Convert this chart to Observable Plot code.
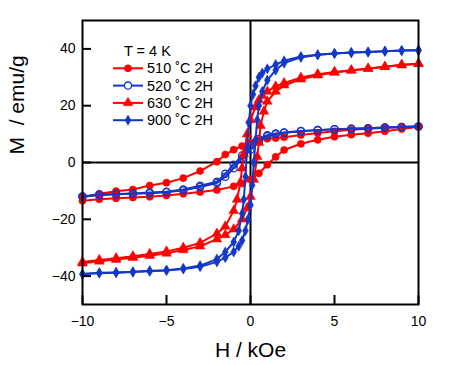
<!DOCTYPE html>
<html><head><meta charset="utf-8">
<script src="https://cdn.jsdelivr.net/npm/d3@7"></script>
<script src="https://cdn.jsdelivr.net/npm/@observablehq/plot@0.6"></script>
<style>
body{margin:0;background:#fff;}
#chart{position:relative;width:456px;height:365px;font-family:Arial,"Liberation Sans",sans-serif;}
</style>
</head><body><div id="chart"></div>
<script>
// ---- data ----
const seriesNames = ["510 ˚C 2H", "520 ˚C 2H", "630 ˚C 2H", "900 ˚C 2H"];
const seriesColors = ["#ff0000", "#1437c8", "#ff0000", "#1437c8"];
const seriesSymbols = ["circle", "circle", "triangle", "diamond"];
const seriesFilled = [true, false, true, true];
const legendTitle = "T = 4 K";
const xTicks = [-10, -5, 0, 5, 10];
const yTicks = [-40, -20, 0, 20, 40];
const xLabel = "H / kOe";
const yLabel = "M\u00a0 / emu/g";

// 510 °C
const H510down = [10,9,8,7,6,5,4,3,2,1.5,1,0.5,0,-0.5,-1,-1.5,-2,-3,-4,-5,-6,-7,-8,-9,-10];
const M510down = [12.7,12.5,12.2,11.9,11.5,11.0,10.4,9.7,8.9,8.6,8.4,7.9,7.0,5.8,4.5,2.8,0.3,-3.0,-5.5,-7.1,-8.1,-9.5,-10.1,-11.0,-12.2];
const H510up = [-10,-9,-8,-7,-6,-5,-4,-3,-2,-1,-0.5,0,0.5,1,1.5,2,3,4,5,6,7,8,9,10];
const M510up = [-13.5,-12.9,-12.6,-12.3,-12.1,-11.6,-11.0,-10.4,-9.7,-8.4,-7.4,-6.0,-3.8,-0.8,2.0,4.4,6.6,8.0,9.1,9.8,10.3,11.0,11.8,12.6];

// 520 °C
const H520down = [10,9,8,7,6,5,4,3,2,1.5,1,0.5,0,-0.5,-1,-1.5,-2,-3,-4,-5,-6,-7,-8,-9,-10];
const M520down = [12.7,12.5,12.3,12.1,11.9,11.7,11.4,11.1,10.6,10.2,9.6,8.3,6.0,2.5,-0.8,-4.0,-6.8,-8.2,-9.5,-10.3,-10.6,-10.9,-11.1,-11.3,-12.0];
const H520up = [-10,-9,-8,-7,-6,-5,-4,-3,-2,-1.5,-1,-0.5,0,0.5,1,1.5,2,3,4,5,6,7,8,9,10];
const M520up = [-12.0,-11.5,-11.2,-11.0,-10.8,-10.5,-9.8,-8.6,-7.2,-5.0,-2.0,1.5,4.5,7.5,9.3,10.0,10.5,11.0,11.4,11.7,11.9,12.1,12.3,12.5,12.7];

// 630 °C
const H630down = [10,9,8,7,6,5,4,3,2,1.5,1,0.7,0.5,0.3,0,-0.2,-0.4,-0.5,-0.6,-0.8,-1,-1.5,-2,-3,-4,-5,-6,-7,-8,-9,-10];
const M630down = [34.8,34.4,33.7,33.1,32.5,31.9,31.1,29.9,28.0,26.8,25.0,23.5,22.0,19.5,15.0,10.0,3.0,-2.0,-7.0,-13.0,-17.0,-22.5,-25.0,-28.3,-30.0,-31.3,-32.2,-33.0,-33.7,-34.3,-35.0];
const H630up = [-10,-9,-8,-7,-6,-5,-4,-3,-2,-1.5,-1,-0.5,-0.2,0,0.2,0.4,0.5,0.6,0.8,1,1.5,2,3,4,5,6,7,8,9,10];
const M630up = [-35.5,-34.8,-34.2,-33.5,-32.8,-32.0,-30.8,-29.5,-27.0,-25.5,-23.5,-20.0,-16.0,-12.0,-6.0,2.0,7.0,13.0,18.0,21.5,25.0,27.2,29.3,30.7,31.7,32.4,33.0,33.7,34.3,34.8];

// 900 °C
const H900down = [10,9,8,7,6,5,4,3,2,1.5,1,0.7,0.5,0.3,0.15,0,-0.1,-0.2,-0.3,-0.4,-0.5,-0.7,-1,-1.5,-2,-3,-4,-5,-6,-7,-8,-9,-10];
const M900down = [39.5,39.4,39.2,38.9,38.7,38.4,37.9,37.3,35.8,34.5,33.0,31.5,30.0,27.0,24.0,20.0,14.0,5.0,-5.0,-13.0,-18.0,-24.0,-28.0,-31.5,-34.0,-36.3,-37.3,-37.9,-38.1,-38.5,-38.7,-38.8,-39.3];
const H900up = [-10,-9,-8,-7,-6,-5,-4,-3,-2,-1.5,-1,-0.7,-0.5,-0.3,-0.15,0,0.1,0.2,0.3,0.4,0.5,0.7,1,1.5,2,3,4,5,6,7,8,9,10];
const M900up = [-39.3,-39.0,-38.8,-38.6,-38.3,-38.0,-37.5,-36.7,-35.0,-33.5,-31.5,-29.5,-27.5,-24.0,-20.0,-15.0,-8.0,0.0,8.0,15.0,20.0,25.0,29.0,32.5,35.0,37.0,37.9,38.4,38.7,38.9,39.2,39.4,39.5];

// ---- build table ----
const branches = [
  [0, "down", H510down, M510down], [0, "up", H510up, M510up],
  [1, "down", H520down, M520down], [1, "up", H520up, M520up],
  [2, "down", H630down, M630down], [2, "up", H630up, M630up],
  [3, "down", H900down, M900down], [3, "up", H900up, M900up]
];
const rows = branches.flatMap(([s, b, H, M]) => H.map((h, i) => ({series: s, branch: b, H: h, M: M[i]})));

const W = 456, Hh = 365, mL = 82, mR = 38, mT = 20, mB = 61;
const frameW = W - mL - mR, frameH = Hh - mT - mB;
const tickLen = 9;
const R = 3.6;
const RD = 3.1;

const marks = [
  Plot.ruleX([0], {stroke: "black", strokeWidth: 2}),
  Plot.ruleY([0], {stroke: "black", strokeWidth: 2})
];
seriesNames.forEach((name, s) => {
  const data = rows.filter(d => d.series === s);
  const c = seriesColors[s];
  marks.push(Plot.line(data, {x: "H", y: "M", z: "branch", stroke: c, strokeWidth: 2}));
  marks.push(Plot.dot(data, {x: "H", y: "M", symbol: seriesSymbols[s], r: seriesSymbols[s] === "diamond" ? RD : R,
    fill: seriesFilled[s] ? c : "none", stroke: c, strokeWidth: seriesFilled[s] ? 0.5 : 1.3}));
});
marks.push(
  Plot.tickY(yTicks, {y: d => d, stroke: "black", strokeWidth: 2, insetRight: frameW - tickLen}),
  Plot.tickX(xTicks, {x: d => d, stroke: "black", strokeWidth: 2, insetTop: frameH - tickLen}),
  Plot.frame({stroke: "black", strokeWidth: 2}),
  Plot.axisX(xTicks, {tickSize: 0, tickPadding: 12, fontSize: 14, label: null}),
  Plot.axisY(yTicks, {tickSize: 0, tickPadding: 7, fontSize: 14, label: null}),
  Plot.text([xLabel], {frameAnchor: "bottom", dy: 52, fontSize: 21, fill: "black"}),
  Plot.text([yLabel], {frameAnchor: "left", dx: -65, dy: -8, rotate: -90, fontSize: 21, fill: "black"})
);

const plot = Plot.plot({
  width: W, height: Hh,
  marginLeft: mL, marginRight: mR, marginTop: mT, marginBottom: mB,
  x: {domain: [-10, 10]},
  y: {domain: [-50, 50]},
  style: {fontFamily: 'Arial, "Liberation Sans", sans-serif', fontSize: "14px", color: "black", background: "white"},
  marks
});
document.getElementById("chart").appendChild(plot);

// ---- legend overlay ----
const svg = d3.select("#chart").append("svg")
  .attr("width", W).attr("height", Hh)
  .style("position", "absolute").style("left", "0px").style("top", "0px")
  .style("pointer-events", "none")
  .style("font-family", 'Arial, "Liberation Sans", sans-serif');
svg.append("text").attr("x", 124).attr("y", 51).attr("dy", "0.35em")
  .attr("font-size", 14.5).text(legendTitle);
const symMap = {circle: d3.symbolCircle, triangle: d3.symbolTriangle, diamond: d3.symbolDiamond};
seriesNames.forEach((name, s) => {
  const y = 68.3 + s * 17.3;
  const c = seriesColors[s];
  const g = svg.append("g");
  g.append("line").attr("x1", 113).attr("x2", 143).attr("y1", y).attr("y2", y)
    .attr("stroke", c).attr("stroke-width", 2);
  const rr = seriesSymbols[s] === "diamond" ? RD : R;
  g.append("path").attr("transform", `translate(128,${y})`)
    .attr("d", d3.symbol().type(symMap[seriesSymbols[s]]).size(Math.PI * rr * rr)())
    .attr("fill", seriesFilled[s] ? c : "white").attr("stroke", c)
    .attr("stroke-width", seriesFilled[s] ? 0.5 : 1.3);
  g.append("text").attr("x", 147).attr("y", y).attr("dy", "0.35em")
    .attr("font-size", 14.5).text(name);
});
</script>
</body></html>
